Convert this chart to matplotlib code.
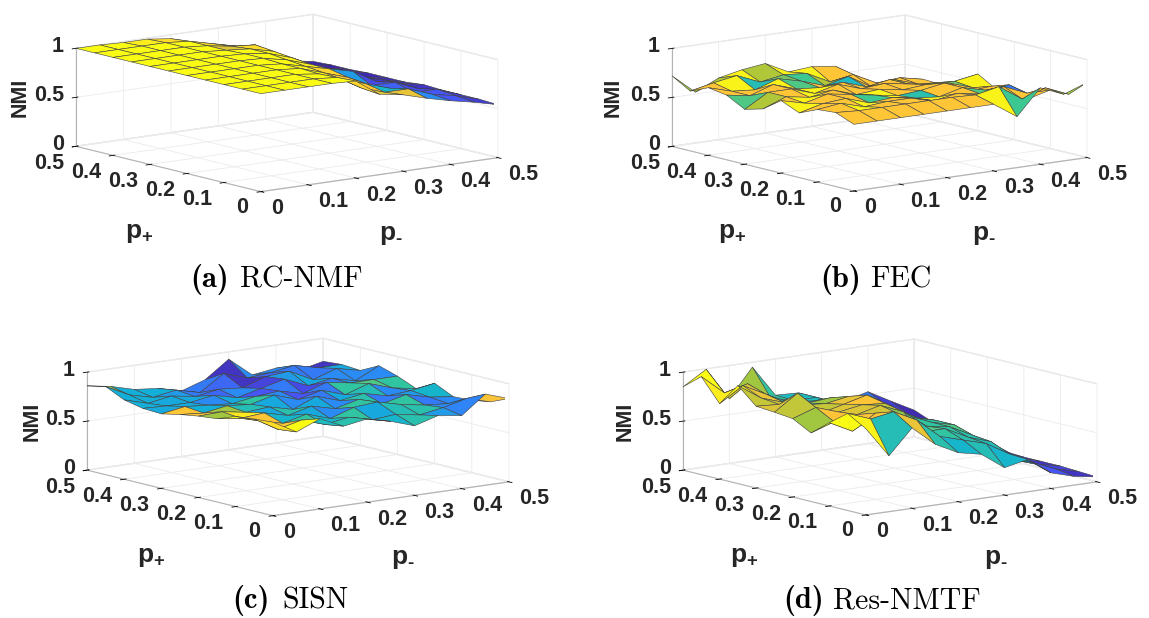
import numpy as np
import matplotlib
matplotlib.use("Agg")
import matplotlib.pyplot as plt
from matplotlib.colors import LinearSegmentedColormap
from mpl_toolkits.mplot3d import proj3d

plt.rcParams['font.family'] = ['Liberation Sans', 'DejaVu Sans']
plt.rcParams['mathtext.fontset'] = 'custom'
plt.rcParams['mathtext.bf'] = 'Liberation Sans:bold'
plt.rcParams['mathtext.rm'] = 'Liberation Sans:bold'

W, H = 1149, 618

parula_colors = [(0.2422, 0.1504, 0.6603), (0.2810, 0.3228, 0.9578), (0.1786, 0.5289, 0.9682),
                 (0.0689, 0.6948, 0.8394), (0.2161, 0.7843, 0.5923), (0.6720, 0.7793, 0.2227),
                 (0.9970, 0.7659, 0.2199), (0.9769, 0.9839, 0.0805)]
parula = LinearSegmentedColormap.from_list("parula", parula_colors)

p_minus = [0, 0.05, 0.1, 0.15, 0.2, 0.25, 0.3, 0.35, 0.4, 0.45, 0.5]
p_plus = [0, 0.05, 0.1, 0.15, 0.2, 0.25, 0.3, 0.35, 0.4, 0.45, 0.5]
tick_values = [0, 0.1, 0.2, 0.3, 0.4, 0.5]
tick_labels = ["0", "0.1", "0.2", "0.3", "0.4", "0.5"]
z_values = [0, 0.5, 1]
z_labels = ["0", "0.5", "1"]

# rows are p+, columns are p-
nmi_a = [
    [1, 1, 1, 1, .99, .82, .78, .71, .65, .60, .54],
    [1, 1, 1, 1, .98, .84, .76, .76, .67, .62, .55],
    [1, 1, 1, 1, .97, .88, .80, .72, .64, .64, .55],
    [1, 1, 1, 1, .98, .90, .82, .70, .70, .60, .55],
    [1, 1, 1, 1, .98, .92, .86, .80, .66, .61, .56],
    [1, 1, 1, 1, .99, .94, .86, .72, .66, .60, .54],
    [1, 1, 1, 1, .99, .96, .88, .76, .66, .58, .54],
    [1, 1, 1, 1, .98, .96, .90, .74, .62, .60, .54],
    [1, 1, 1, 1, .98, .94, .92, .76, .64, .58, .53],
    [1, 1, 1, 1, .98, .92, .86, .78, .60, .56, .53],
    [1, 1, .99, .99, .96, .875, .83, .77, .60, .56, .52],
]
nmi_b = [
    [.68, .68, .68, .68, .68, .68, .68, .52, .78, .68, .765],
    [.755, .74, .74, .74, .74, .74, .73, .78, .62, .70, .60],
    [.74, .77, .70, .72, .72, .66, .70, .66, .70, .60, .60],
    [.66, .72, .74, .66, .68, .64, .62, .68, .62, .64, .48],
    [.74, .68, .74, .70, .66, .62, .64, .68, .56, .58, .48],
    [.61, .70, .66, .70, .62, .64, .60, .62, .60, .52, .47],
    [.56, .70, .70, .62, .68, .60, .62, .58, .54, .54, .58],
    [.66, .62, .70, .62, .60, .62, .54, .58, .48, .48, .43],
    [.69, .62, .60, .68, .62, .54, .60, .46, .50, .42, .38],
    [.61, .66, .70, .60, .64, .62, .50, .54, .42, .44, .39],
    [.72, .52, .63, .68, .71, .59, .61, .58, .39, .31, .33],
]
nmi_c = [
    [.955, .82, .92, .81, .85, .79, .71, .78, .745, .93, .85],
    [.94, .80, .86, .78, .82, .76, .78, .74, .78, .84, .77],
    [.92, .84, .78, .84, .76, .84, .86, .80, .76, .74, .74],
    [.85, .82, .84, .78, .84, .78, .84, .76, .82, .76, .73],
    [.83, .84, .80, .82, .76, .86, .78, .82, .76, .78, .82],
    [.80, .78, .82, .80, .86, .78, .84, .76, .84, .76, .72],
    [.76, .80, .78, .76, .80, .82, .76, .84, .80, .80, .80],
    [.77, .76, .76, .80, .74, .80, .86, .76, .80, .74, .86],
    [.81, .74, .78, .74, .78, .76, .84, .86, .74, .82, .765],
    [.90, .78, .72, .76, .70, .86, .78, .80, .84, .78, .78],
    [.86, .82, .755, .73, .67, .75, .925, .73, .765, .71, .765],
]
nmi_d = [
    [.88, .57, .82, .62, .50, .45, .28, .33, .16, .09, .05],
    [.99, .90, .94, .82, .62, .55, .48, .34, .22, .12, .06],
    [.85, .73, .88, .84, .62, .62, .50, .42, .20, .12, .07],
    [.70, .78, .82, .88, .78, .60, .56, .44, .30, .14, .07],
    [.80, .88, .80, .84, .82, .66, .56, .50, .30, .15, .07],
    [.82, .98, .74, .80, .86, .72, .56, .50, .28, .14, .08],
    [.835, .82, .78, .76, .80, .76, .60, .48, .30, .16, .09],
    [1.0, .84, .76, .72, .74, .68, .64, .50, .34, .18, .12],
    [.77, .92, .80, .68, .66, .60, .60, .50, .38, .22, .17],
    [1.0, .80, .86, .68, .62, .62, .52, .50, .44, .30, .20],
    [.85, .995, .66, .95, .63, .62, .49, .47, .53, .40, .275],
]

# colour of each patch, 0 is the dark end of the map and 1 the yellow end
shade_a = [
    [1, 1, 1, 1, .90, .80, .82, .30, .15, .08],
    [1, 1, 1, 1, .95, .86, .45, .30, .15, .08],
    [1, 1, 1, 1, .98, .86, .40, .18, .12, .06],
    [1, 1, 1, 1, .98, .90, .35, .12, .08, .05],
    [1, 1, 1, 1, 1, .95, .40, .50, .05, .05],
    [1, 1, 1, 1, 1, .98, .55, .15, .05, .03],
    [1, 1, 1, 1, 1, .98, .80, .08, .03, .02],
    [1, 1, 1, 1, .80, .92, .90, .05, .02, 0],
    [1, 1, 1, 1, .92, .95, .85, .05, 0, 0],
    [1, 1, .96, .92, .88, .90, .80, .05, 0, 0],
]
shade_b = [
    [.86, .86, .86, .86, .86, .86, .98, .58, .86, .70],
    [.86, .98, .86, .86, .86, .86, .98, .86, .86, .86],
    [.86, .86, .98, .86, .86, .98, .86, .60, .25, .86],
    [.98, .86, .86, .58, .98, .52, .86, .86, .86, .86],
    [.86, .98, .86, .86, .98, .86, .86, .86, .86, .86],
    [.72, .86, .98, .86, .86, .86, .86, .86, .65, .98],
    [.60, .86, .86, .98, .86, .86, .86, .86, .70, .65],
    [.86, .86, .98, .60, .86, .47, .86, .98, .86, .86],
    [.86, .98, .50, .65, .58, .72, .86, .86, .86, .86],
    [.70, .72, .98, .72, .98, .98, .86, .86, .86, .86],
]
shade_c = [
    [.92, 1.0, .48, .52, .55, .45, .52, .35, .28, .85],
    [.98, .86, .55, .45, .55, .40, .50, .52, .30, .30],
    [.98, .86, .45, .40, .30, .55, .55, .55, .25, .30],
    [.70, .95, .40, .52, .40, .30, .52, .25, .35, .45],
    [.86, .70, .50, .40, .30, .25, .40, .50, .30, .45],
    [.86, .42, .42, .55, .30, .15, .25, .55, .60, .55],
    [.40, .40, .30, .40, .15, .25, .12, .25, .35, .30],
    [.42, .40, .40, .20, .30, .10, .35, .40, .30, .30],
    [.42, .42, .35, .25, .20, .05, .20, .25, .25, .40],
    [.70, .42, .42, .30, .25, .05, .30, .30, .40, .05],
]
shade_d = [
    [.98, .50, .82, .52, .45, .50, .45, .42, .15, .05],
    [1.0, .85, .78, .72, .55, .52, .50, .45, .42, .10],
    [1.0, .85, .78, .68, .60, .55, .52, .48, .12, .05],
    [.70, .85, .80, .75, .72, .55, .60, .50, .08, .04],
    [.75, .75, .80, .86, .72, .60, .55, .50, .06, .03],
    [.80, .76, .76, .82, .72, .68, .58, .45, .05, .03],
    [.76, .78, .50, .70, .72, .58, .55, .40, .05, .02],
    [1.0, .82, .50, .58, .55, .55, .50, .25, .05, .02],
    [.96, .78, .58, .55, .48, .45, .35, .15, .04, .01],
    [1.0, .78, .70, .55, .48, .45, .40, .25, .08, .02],
]

captions_bold = ["(a)", "(b)", "(c)", "(d)"]
captions_name = ["RC-NMF", "FEC", "SISN", "Res-NMTF"]

# front floor corner in pixels, floor spans, axis height
fronts = [(261, 192), (854, 192), (273, 516), (866, 516)]
span_minus = [237, 233, 236, 231]
span_plus = [185, 182, 186, 183]
caption_left = [190, 820, 232, 783]
caption_y = [280, 280, 601, 601]

z_px = 98
azim = -127.4
elev = 10.8
s_az = 0.794
c_az = 0.608


def to_data(ax, x, y, z):
    px, py, _ = proj3d.proj_transform(x, y, z, ax.get_proj())
    return px, py


fig = plt.figure(figsize=(W / 100, H / 100), dpi=100, facecolor='white')
heights = [nmi_a, nmi_b, nmi_c, nmi_d]
shades = [shade_a, shade_b, shade_c, shade_d]

for k in range(4):
    fx, fy = fronts[k]
    a = span_minus[k] / s_az
    b = span_plus[k] / c_az
    c = z_px / np.cos(np.radians(elev))
    side = np.sqrt(a * a + b * b + c * c) * 1.85 / 1.9057
    cx = fx + (span_minus[k] - span_plus[k]) / 2
    cy = fy - 40 - z_px / 2
    ax = fig.add_axes([(cx - 0.5135 * side) / W, 1 - (cy + 0.5135 * side) / H, side / W, side / H],
                      projection='3d')
    ax.patch.set_alpha(0)
    ax.set_proj_type('ortho')
    ax.view_init(elev=elev, azim=azim)
    ax.set_box_aspect((a, b, c))
    ax.set_xlim(0, 0.5, view_margin=0)
    ax.set_ylim(0, 0.5, view_margin=0)
    ax.set_zlim(0, 1, view_margin=0)

    Z = np.array(heights[k], dtype=float)
    X, Y = np.meshgrid(p_minus, p_plus)
    ax.plot_surface(X, Y, Z, facecolors=parula(np.array(shades[k], dtype=float)), rstride=1, cstride=1,
                    shade=False, edgecolor=(0.25, 0.25, 0.25), linewidth=0.4, antialiased=True)

    ax.set_xticks(tick_values)
    ax.set_yticks(tick_values)
    ax.set_zticks(z_values)
    ax.set_xticklabels([])
    ax.set_yticklabels([])
    ax.set_zticklabels([])
    for axis in (ax.xaxis, ax.yaxis, ax.zaxis):
        axis.set_pane_color((1, 1, 1, 1))
        axis.pane.set_edgecolor('0.9')
        axis.line.set_color('0.7')
        axis.line.set_linewidth(0.8)
        axis._axinfo['grid']['color'] = '0.92'
        axis._axinfo['grid']['linewidth'] = 0.6
        axis._axinfo['tick']['color'] = '0.7'
        axis._axinfo['tick']['linewidth'] = {True: 0.6, False: 0.4}

    style = dict(fontsize=15.5, fontweight='bold', color='#262626', annotation_clip=False,
                 textcoords='offset pixels')
    for v, t in zip(tick_values, tick_labels):
        off = (16, -17) if v == 0 else (25, -17)
        ax.annotate(t, to_data(ax, v, 0, 0), xytext=off, ha='center', va='center', **style)
        off = (-19, -16) if v == 0 else (-27, -17)
        ax.annotate(t, to_data(ax, 0, v, 0), xytext=off, ha='center', va='center', **style)
    for v, t in zip(z_values, z_labels):
        ax.annotate(t, to_data(ax, 0, 0.5, v), xytext=(-12, 2), ha='right', va='center', **style)

    fig.text((fx - 241) / W, 1 - (fy - 95) / H, "NMI", rotation=90, fontsize=15.5, fontweight='bold',
             color='#262626', ha='center', va='center')
    fig.text((fx - 122) / W, 1 - (fy + 41) / H, r"$\mathbf{p_{+}}$", fontsize=19,
             color='#262626', ha='center', va='center')
    fig.text((fx + 130) / W, 1 - (fy + 43) / H, r"$\mathbf{p}_{\text{-}}$", fontsize=19,
             color='#262626', ha='center', va='center')

    fig.text(caption_left[k] / W, 1 - caption_y[k] / H, captions_bold[k], family='cmb10', fontsize=22,
             ha='left', va='center', color='black')
    fig.text((caption_left[k] + 50) / W, 1 - caption_y[k] / H, captions_name[k], family='cmr10',
             fontsize=21.5, ha='left', va='center', color='black')

fig.savefig("out.png", dpi=100)
